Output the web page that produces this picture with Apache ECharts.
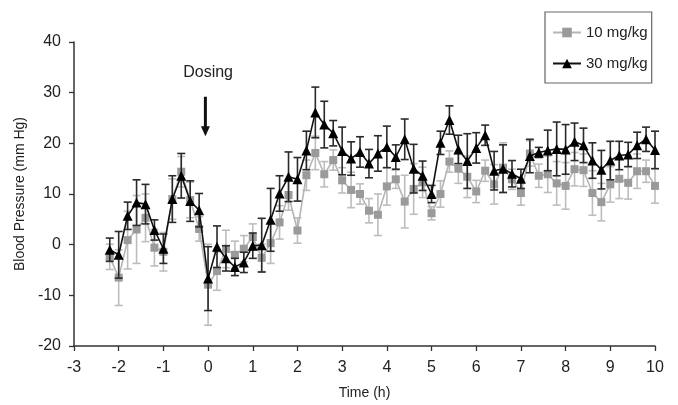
<!DOCTYPE html>
<html>
<head>
<meta charset="utf-8">
<script src="https://cdn.jsdelivr.net/npm/echarts@6/dist/echarts.min.js"></script>
<style>
html,body{margin:0;padding:0;background:#fff;}
#chart{width:678px;height:405px;}
</style>
</head>
<body>
<div id="chart"></div>
<script>
// Time points (h)
var timeH = [-2.2,-2.0,-1.8,-1.6,-1.4,-1.2,-1.0,-0.8,-0.6,-0.4,-0.2,0.0,0.2,0.4,0.6,0.8,1.0,1.2,1.4,1.6,1.8,2.0,2.2,2.4,2.6,2.8,3.0,3.2,3.4,3.6,3.8,4.0,4.2,4.4,4.6,4.8,5.0,5.2,5.4,5.6,5.8,6.0,6.2,6.4,6.6,6.8,7.0,7.2,7.4,7.6,7.8,8.0,8.2,8.4,8.6,8.8,9.0,9.2,9.4,9.6,9.8,10.0];

// 10 mg/kg mean and error
var mean10 = [-2.4,-6.5,0.9,3.0,5.3,-0.6,-1.4,9.0,14.4,8.8,3.1,-7.9,-5.2,-0.85,-2.0,-0.8,1.5,-2.6,0.3,4.4,9.8,2.8,13.7,18.1,13.9,16.7,12.7,10.8,10.0,6.7,5.9,11.5,12.9,8.5,11.0,12.3,6.2,10.0,16.4,15.0,13.4,10.5,14.6,11.9,15.2,12.9,10.2,18.0,13.6,13.9,12.1,11.6,14.9,14.7,10.2,8.4,11.9,13.0,12.2,14.5,14.5,11.6];
var err10 = [2.5,5.5,5.7,6.7,4.7,3.6,3.8,4.0,3.0,3.5,2.4,8.0,3.8,3.7,2.7,2.6,2.6,2.7,4.0,3.3,3.0,2.5,3.0,3.3,2.5,2.0,2.5,3.5,2.0,2.4,4.1,3.7,1.8,5.2,5.0,3.0,1.3,2.6,2.1,2.9,4.1,2.2,2.1,3.9,4.9,2.0,2.4,2.5,2.3,3.6,4.3,4.6,3.3,3.2,4.4,3.7,3.5,3.9,3.2,3.4,2.2,3.4];

// 30 mg/kg mean and error
var mean30 = [-1.0,-2.0,5.7,8.3,8.0,2.9,-0.8,9.0,13.6,8.6,6.8,-6.7,-0.4,-2.7,-4.4,-3.5,-0.2,-0.1,4.9,10.1,13.4,12.9,18.6,26.1,23.7,22.0,18.5,17.0,18.3,16.0,18.0,19.3,17.3,20.8,15.0,13.6,10.0,20.1,24.6,18.8,16.5,19.1,21.6,14.6,15.0,14.0,13.0,17.5,18.2,18.6,18.9,18.8,20.3,19.6,16.6,14.8,16.6,17.6,17.8,19.6,20.8,18.7];
var err30 = [2.3,4.6,2.7,4.5,3.9,2.0,2.9,4.6,4.4,4.0,3.3,6.3,4.1,2.5,1.7,2.0,2.5,5.3,6.2,3.5,4.9,4.3,3.8,5.0,4.6,2.5,4.7,3.3,3.0,2.8,3.5,4.1,2.4,4.0,4.8,2.9,1.7,2.3,2.8,2.8,5.4,3.0,2.0,3.8,4.7,2.6,1.9,3.3,1.0,4.0,5.3,4.9,3.7,3.4,3.5,3.8,3.8,2.8,2.4,2.6,2.4,3.7];

var xTicks = [-3,-2,-1,0,1,2,3,4,5,6,7,8,9,10];
var yTicks = [-20,-10,0,10,20,30,40];
var seriesNames = ['10 mg/kg','30 mg/kg'];
var dosingTime = -0.06;

function pairs(m){ return timeH.map(function(t,i){return [t,m[i]];}); }
function errData(m,e){ return timeH.map(function(t,i){return [t,m[i]-e[i],m[i]+e[i]];}); }

function errRender(color){
  return function(params, api){
    var x = api.value(0);
    var lo = api.coord([x, api.value(1)]);
    var hi = api.coord([x, api.value(2)]);
    var cw = 4;
    var st = {stroke: color, lineWidth: 1.6};
    return {type:'group', children:[
      {type:'line', shape:{x1:lo[0],y1:lo[1],x2:hi[0],y2:hi[1]}, style:st},
      {type:'line', shape:{x1:lo[0]-cw,y1:lo[1],x2:lo[0]+cw,y2:lo[1]}, style:st},
      {type:'line', shape:{x1:hi[0]-cw,y1:hi[1],x2:hi[0]+cw,y2:hi[1]}, style:st}
    ]};
  };
}

var FONT = 'Liberation Sans, Arial, sans-serif';
var chart = echarts.init(document.getElementById('chart'), null, {renderer:'canvas'});
var option = {
  animation: false,
  backgroundColor: '#fff',
  grid: {left: 74, right: 23, top: 42, bottom: 57.5},
  xAxis: {
    type: 'value', min: xTicks[0], max: xTicks[xTicks.length-1], interval: 1,
    name: 'Time (h)', nameLocation: 'middle', nameGap: 40,
    nameTextStyle: {fontFamily: FONT, fontSize: 14, color: '#222'},
    axisLine: {onZero: false, lineStyle: {color: '#333', width: 1.5}},
    axisTick: {show: true, inside: false, length: 5, lineStyle: {color: '#333', width: 1.3}},
    axisLabel: {fontFamily: FONT, fontSize: 16, color: '#222', margin: 14},
    splitLine: {show: false}
  },
  yAxis: {
    type: 'value', min: yTicks[0], max: yTicks[yTicks.length-1], interval: 10,
    name: 'Blood Pressure (mm Hg)', nameLocation: 'middle', nameGap: 42,
    nameTextStyle: {fontFamily: FONT, fontSize: 14, color: '#222'},
    axisLine: {show: true, onZero: false, lineStyle: {color: '#333', width: 1.5}},
    axisTick: {show: true, inside: false, length: 5, lineStyle: {color: '#333', width: 1.3}},
    axisLabel: {fontFamily: FONT, fontSize: 16, color: '#222', margin: 13},
    splitLine: {show: false}
  },
  legend: {
    data: seriesNames,
    orient: 'vertical', left: 545, top: 12,
    padding: [13, 4, 12, 7],
    itemWidth: 28, itemHeight: 12, itemGap: 16,
    borderColor: '#666', borderWidth: 1.2,
    textStyle: {fontFamily: FONT, fontSize: 15, color: '#222'}
  },
  series: [
    {type: 'custom', name: 'err10', data: errData(mean10, err10), renderItem: errRender('#bdbdbd'),
     encode: {x: 0, y: [1, 2]}, z: 1, silent: true},
    {type: 'line', name: seriesNames[0], data: pairs(mean10), z: 2,
     symbol: 'rect', symbolSize: 8,
     lineStyle: {color: '#b5b5b5', width: 1.6},
     itemStyle: {color: '#9a9a9a'}},
    {type: 'custom', name: 'err30', data: errData(mean30, err30), renderItem: errRender('#2a2a2a'),
     encode: {x: 0, y: [1, 2]}, z: 3, silent: true},
    {type: 'line', name: seriesNames[1], data: pairs(mean30), z: 4,
     symbol: 'triangle', symbolSize: 10,
     lineStyle: {color: '#111', width: 1.6},
     itemStyle: {color: '#000'}}
  ]
};
chart.setOption(option);

// Dosing annotation
var arrTop = chart.convertToPixel({gridIndex: 0}, [dosingTime, 29.2]);
var arrTip = chart.convertToPixel({gridIndex: 0}, [dosingTime, 21.4]);
var txtPos = chart.convertToPixel({gridIndex: 0}, [0, 33.9]);
chart.setOption({
  graphic: [
    {type: 'text', z: 100, x: txtPos[0], y: txtPos[1], style: {text: 'Dosing', fontFamily: FONT, fontSize: 16, fill: '#222', align: 'center', verticalAlign: 'middle'}},
    {type: 'rect', z: 100, shape: {x: arrTop[0] - 1.5, y: arrTop[1], width: 3, height: (arrTip[1] - arrTop[1]) - 9}, style: {fill: '#111'}},
    {type: 'polygon', z: 100, shape: {points: [[arrTop[0] - 4.5, arrTip[1] - 10], [arrTop[0] + 4.5, arrTip[1] - 10], [arrTop[0], arrTip[1]]]}, style: {fill: '#111'}}
  ]
});
</script>
</body>
</html>
